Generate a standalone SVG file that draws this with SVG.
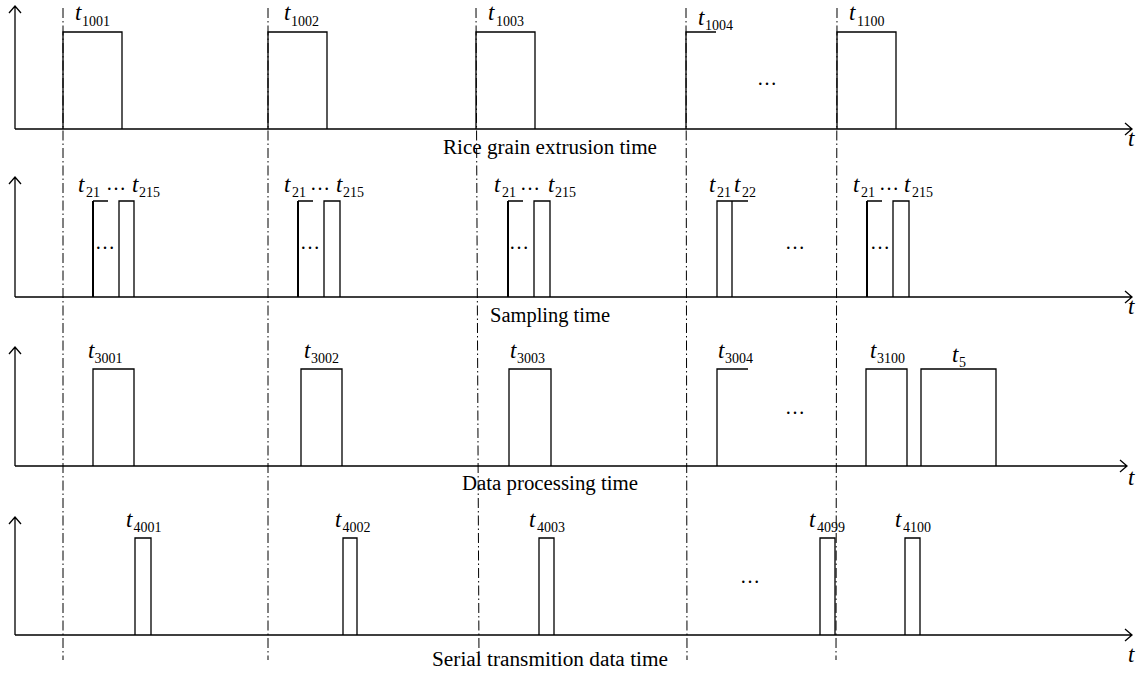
<svg xmlns="http://www.w3.org/2000/svg" width="1140" height="673" viewBox="0 0 1140 673">
  <style>
    .ax { fill: none; stroke: #000; stroke-width: 1.3; }
    .pl { fill: none; stroke: #000; stroke-width: 1.3; }
    .lead { fill: none; stroke: #000; stroke-width: 2; }
    .dd { fill: none; stroke: #000; stroke-width: 1; stroke-dasharray: 10 3 1.5 3; }
    .ti { font-family: "Liberation Serif", serif; font-style: italic; font-size: 23px; fill: #000; }
    .sb { font-family: "Liberation Serif", serif; font-size: 14px; fill: #000; }
    .ttl { font-family: "Liberation Serif", serif; font-size: 20px; fill: #000; }
    .dots { font-family: "Liberation Serif", serif; font-size: 20px; fill: #000; }
  </style>

  <!-- Row 1: rice grain extrusion -->
  <g id="row-extrusion">
    <path class="ax" d="M15 129 V6 M9 13 L15 6 L21 13 M15 129 H1132 M1125 123 L1132 129 L1125 135"/>
    <text class="ti" x="1128" y="146">t</text>
    <text class="ttl" x="443" y="154" textLength="214" lengthAdjust="spacingAndGlyphs">Rice grain extrusion time</text>
    <g id="p1001"><path class="pl" d="M63 129 V32 H122 V129"/><text class="ti" x="75" y="20">t</text><text class="sb" x="82" y="26">1001</text></g>
    <g id="p1002"><path class="pl" d="M268 129 V32 H327 V129"/><text class="ti" x="284" y="20">t</text><text class="sb" x="291" y="26">1002</text></g>
    <g id="p1003"><path class="pl" d="M476 129 V32 H535 V129"/><text class="ti" x="488" y="20">t</text><text class="sb" x="496" y="26">1003</text></g>
    <g id="p1004"><path class="pl" d="M686 129 V32 H716"/><text class="ti" x="698" y="25">t</text><text class="sb" x="705" y="30">1004</text></g>
    <text class="dots" x="757" y="85">…</text>
    <g id="p1100"><path class="pl" d="M837 129 V32 H896 V129"/><text class="ti" x="849" y="20">t</text><text class="sb" x="857" y="26">1100</text></g>
  </g>

  <!-- Row 2: sampling -->
  <g id="row-sampling">
    <path class="ax" d="M15 297 V177 M9 184 L15 177 L21 184 M15 297 H1132 M1125 291 L1132 297 L1125 303"/>
    <text class="ti" x="1128" y="314">t</text>
    <text class="ttl" x="490" y="322" textLength="120" lengthAdjust="spacingAndGlyphs">Sampling time</text>
    <g id="s1">
      <path class="lead" d="M93 297 V201"/><path class="pl" d="M93 201 H108 M119 297 V201 H134 V297"/>
      <text class="dots" x="95" y="249">…</text>
      <text class="ti" x="78" y="192">t</text><text class="sb" x="86" y="197">21</text>
      <text class="dots" x="106" y="190">…</text>
      <text class="ti" x="132" y="192">t</text><text class="sb" x="139" y="197">215</text>
    </g>
    <g id="s2">
      <path class="lead" d="M298 297 V201"/><path class="pl" d="M298 201 H313 M324 297 V201 H340 V297"/>
      <text class="dots" x="300" y="249">…</text>
      <text class="ti" x="284" y="192">t</text><text class="sb" x="292" y="197">21</text>
      <text class="dots" x="310" y="190">…</text>
      <text class="ti" x="336" y="192">t</text><text class="sb" x="343" y="197">215</text>
    </g>
    <g id="s3">
      <path class="lead" d="M508 297 V201"/><path class="pl" d="M508 201 H523 M534 297 V201 H550 V297"/>
      <text class="dots" x="509" y="249">…</text>
      <text class="ti" x="494" y="192">t</text><text class="sb" x="502" y="197">21</text>
      <text class="dots" x="520" y="190">…</text>
      <text class="ti" x="548" y="192">t</text><text class="sb" x="555" y="197">215</text>
    </g>
    <g id="s4">
      <path class="pl" d="M717 297 V201 H748 M732 297 V201"/>
      <text class="ti" x="709" y="192">t</text><text class="sb" x="717" y="197">21</text>
      <text class="ti" x="734" y="192">t</text><text class="sb" x="742" y="197">22</text>
    </g>
    <text class="dots" x="785" y="249">…</text>
    <g id="s5">
      <path class="lead" d="M867 297 V201"/><path class="pl" d="M867 201 H882 M893 297 V201 H909 V297"/>
      <text class="dots" x="870" y="249">…</text>
      <text class="ti" x="853" y="192">t</text><text class="sb" x="861" y="197">21</text>
      <text class="dots" x="879" y="190">…</text>
      <text class="ti" x="904" y="192">t</text><text class="sb" x="912" y="197">215</text>
    </g>
  </g>

  <!-- Row 3: data processing -->
  <g id="row-processing">
    <path class="ax" d="M15 466 V347 M9 354 L15 347 L21 354 M15 466 H1127 M1120 460 L1127 466 L1120 472"/>
    <text class="ti" x="1128" y="485">t</text>
    <text class="ttl" x="462" y="490" textLength="176" lengthAdjust="spacingAndGlyphs">Data processing time</text>
    <g id="p3001"><path class="pl" d="M93 466 V369 H134 V466"/><text class="ti" x="88" y="358">t</text><text class="sb" x="94.5" y="363">3001</text></g>
    <g id="p3002"><path class="pl" d="M301 466 V369 H342 V466"/><text class="ti" x="304" y="358">t</text><text class="sb" x="311" y="363">3002</text></g>
    <g id="p3003"><path class="pl" d="M509 466 V369 H551 V466"/><text class="ti" x="510" y="358">t</text><text class="sb" x="517" y="363">3003</text></g>
    <g id="p3004"><path class="pl" d="M717 466 V369 H748"/><text class="ti" x="718" y="358">t</text><text class="sb" x="725" y="363">3004</text></g>
    <text class="dots" x="785" y="414">…</text>
    <g id="p3100"><path class="pl" d="M866 466 V369 H907 V466"/><text class="ti" x="870" y="358">t</text><text class="sb" x="877" y="363">3100</text></g>
    <g id="p5"><path class="pl" d="M921 466 V369 H996 V466"/><text class="ti" x="952" y="362">t</text><text class="sb" x="959" y="367">5</text></g>
  </g>

  <!-- Row 4: serial transmission -->
  <g id="row-serial">
    <path class="ax" d="M15 635 V517 M9 524 L15 517 L21 524 M15 635 H1132 M1125 629 L1132 635 L1125 641"/>
    <text class="ti" x="1128" y="662">t</text>
    <text class="ttl" x="432" y="666" textLength="236" lengthAdjust="spacingAndGlyphs">Serial transmition data time</text>
    <g id="p4001"><path class="pl" d="M135 635 V538 H151 V635"/><text class="ti" x="126" y="527">t</text><text class="sb" x="133.5" y="532">4001</text></g>
    <g id="p4002"><path class="pl" d="M343 635 V538 H357 V635"/><text class="ti" x="335" y="527">t</text><text class="sb" x="342.5" y="532">4002</text></g>
    <g id="p4003"><path class="pl" d="M539 635 V538 H554 V635"/><text class="ti" x="529" y="527">t</text><text class="sb" x="537" y="532">4003</text></g>
    <text class="dots" x="740" y="583">…</text>
    <g id="p4099"><path class="pl" d="M820 635 V538 H835 V635"/><text class="ti" x="809" y="527">t</text><text class="sb" x="817" y="532">4099</text></g>
    <g id="p4100"><path class="pl" d="M905 635 V538 H920 V635"/><text class="ti" x="895" y="527">t</text><text class="sb" x="903" y="532">4100</text></g>
  </g>

  <!-- Cycle boundaries running through all four rows -->
  <g id="connectors">
    <path class="dd" d="M63 8 V660"/>
    <path class="dd" d="M268 8 V660"/>
    <path class="dd" d="M476 8 L479 660"/>
    <path class="dd" d="M686 8 L687 660"/>
    <path class="dd" d="M837 8 L836 660"/>
  </g>
</svg>
